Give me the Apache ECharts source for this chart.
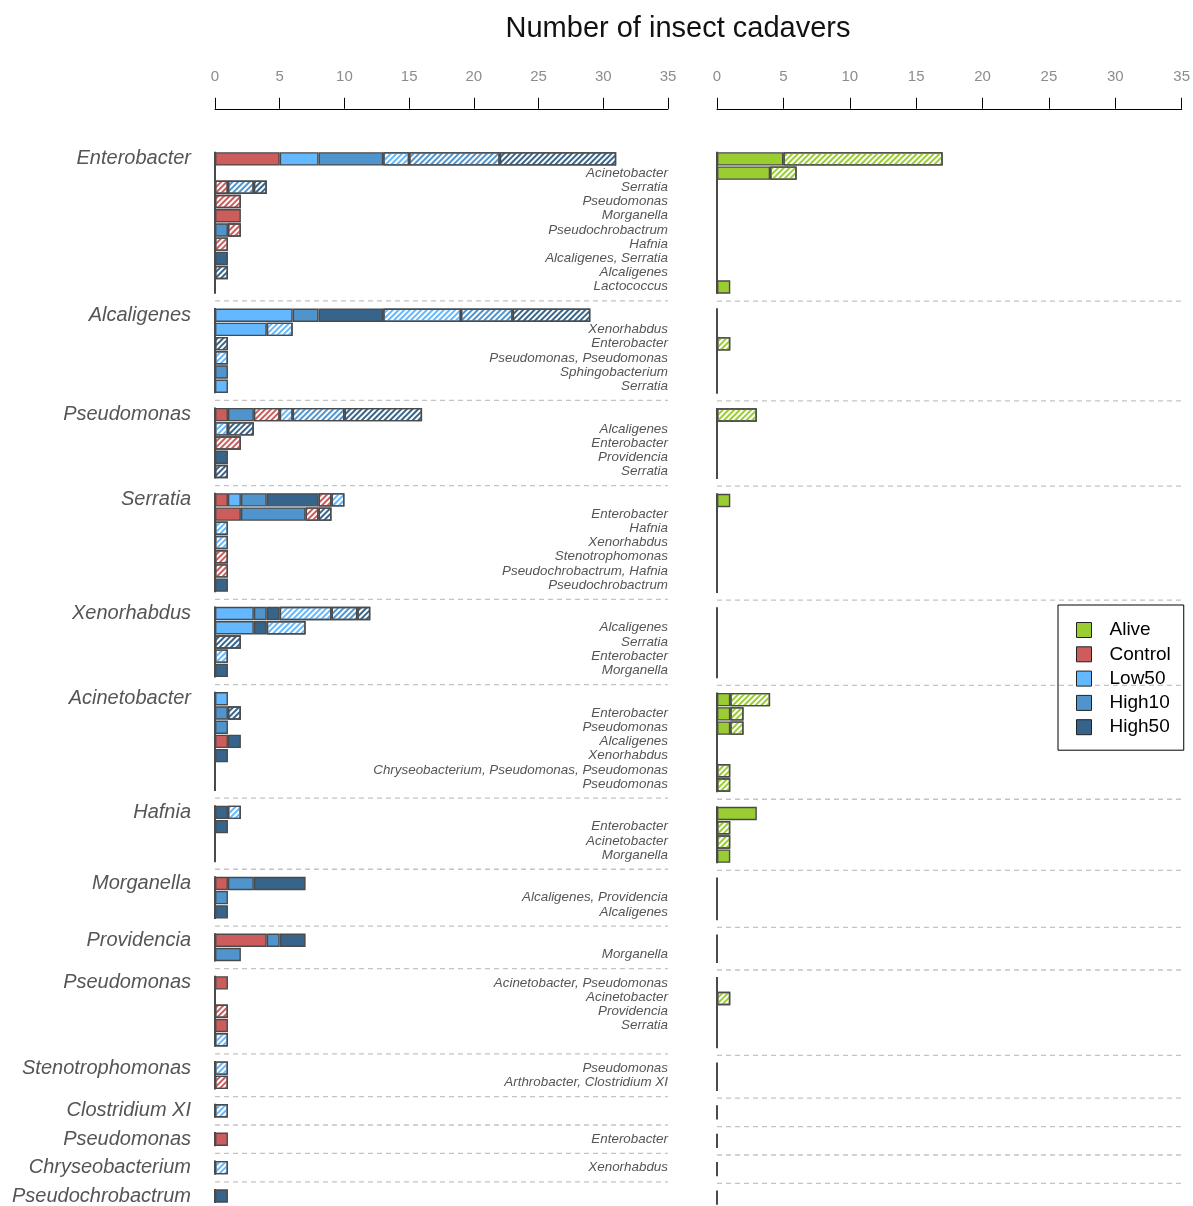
<!DOCTYPE html>
<html><head><meta charset="utf-8">
<script src="https://cdn.jsdelivr.net/npm/echarts@6/dist/echarts.min.js"></script>
<style>html,body{margin:0;padding:0;background:#fff}#c{width:1193px;height:1206px}</style>
</head><body><div id="c"></div>
<script>
// ---- data ----
const rowCount = 74; // rows incl. blank separator rows
const groupTitles = [[0,'Enterobacter'],[11,'Alcaligenes'],[18,'Pseudomonas'],[24,'Serratia'],[32,'Xenorhabdus'],
  [38,'Acinetobacter'],[46,'Hafnia'],[51,'Morganella'],[55,'Providencia'],[58,'Pseudomonas'],
  [64,'Stenotrophomonas'],[67,'Clostridium XI'],[69,'Pseudomonas'],[71,'Chryseobacterium'],[73,'Pseudochrobactrum']];
const rowLabels = [[1,'Acinetobacter'],[2,'Serratia'],[3,'Pseudomonas'],[4,'Morganella'],[5,'Pseudochrobactrum'],
  [6,'Hafnia'],[7,'Alcaligenes, Serratia'],[8,'Alcaligenes'],[9,'Lactococcus'],
  [12,'Xenorhabdus'],[13,'Enterobacter'],[14,'Pseudomonas, Pseudomonas'],[15,'Sphingobacterium'],[16,'Serratia'],
  [19,'Alcaligenes'],[20,'Enterobacter'],[21,'Providencia'],[22,'Serratia'],
  [25,'Enterobacter'],[26,'Hafnia'],[27,'Xenorhabdus'],[28,'Stenotrophomonas'],[29,'Pseudochrobactrum, Hafnia'],[30,'Pseudochrobactrum'],
  [33,'Alcaligenes'],[34,'Serratia'],[35,'Enterobacter'],[36,'Morganella'],
  [39,'Enterobacter'],[40,'Pseudomonas'],[41,'Alcaligenes'],[42,'Xenorhabdus'],[43,'Chryseobacterium, Pseudomonas, Pseudomonas'],[44,'Pseudomonas'],
  [47,'Enterobacter'],[48,'Acinetobacter'],[49,'Morganella'],
  [52,'Alcaligenes, Providencia'],[53,'Alcaligenes'],
  [56,'Morganella'],
  [58,'Acinetobacter, Pseudomonas'],[59,'Acinetobacter'],[60,'Providencia'],[61,'Serratia'],
  [64,'Pseudomonas'],[65,'Arthrobacter, Clostridium XI'],
  [69,'Enterobacter'],[71,'Xenorhabdus']];
const groupRanges = [[0,9],[11,16],[18,22],[24,30],[32,36],[38,44],[46,49],[51,53],[55,56],[58,62],[64,65],[67,67],[69,69],[71,71],[73,73]];
const separatorRows = [10,17,23,31,37,45,50,54,57,63,66,68,70,72];
const axisMin = 0, axisMax = 35, axisStep = 5;

// [row, count]
const controlSolid = [[0,5],[4,2],[18,1],[24,1],[25,2],[41,1],[51,1],[55,4],[58,1],[61,1],[69,1]];
const low50Solid   = [[0,3],[11,6],[12,4],[16,1],[24,1],[32,3],[33,3],[38,1]];
const high10Solid  = [[0,5],[5,1],[11,2],[15,1],[18,2],[24,2],[25,5],[32,1],[39,1],[40,1],[51,2],[52,1],[55,1],[56,2]];
const high50Solid  = [[7,1],[11,5],[21,1],[24,4],[30,1],[32,1],[33,1],[36,1],[41,1],[42,1],[46,1],[47,1],[51,4],[53,1],[55,2],[73,1]];
const controlHatch = [[2,1],[3,2],[5,1],[6,1],[18,2],[20,2],[24,1],[25,1],[28,1],[29,1],[60,1],[65,1]];
const low50Hatch   = [[0,2],[11,6],[12,2],[14,1],[18,1],[19,1],[24,1],[26,1],[27,1],[32,4],[33,3],[35,1],[46,1],[62,1],[64,1],[67,1],[71,1]];
const high10Hatch  = [[0,7],[2,2],[11,4],[18,4],[32,2]];
const high50Hatch  = [[0,9],[2,1],[8,1],[11,6],[13,1],[18,6],[19,2],[22,1],[25,1],[32,1],[34,2],[39,1]];
const aliveSolid   = [[0,5],[1,4],[9,1],[24,1],[38,1],[39,1],[40,1],[46,3],[49,1]];
const aliveHatch   = [[0,12],[1,2],[13,1],[18,3],[38,3],[39,1],[40,1],[43,1],[44,1],[47,1],[48,1],[59,1]];

// ---- build ----
const COL = {Alive:'#9ACD32', Control:'#CD5C5C', Low50:'#63B8FF', High10:'#4F94CD', High50:'#36648B'};
const cats = Array.from({length: rowCount}, (_, i) => 'r' + i);
const titleMap = Object.fromEntries(groupTitles);
const labelMap = Object.fromEntries(rowLabels);
function expand(pairs){ const a = new Array(rowCount).fill('-'); pairs.forEach(p => { a[p[0]] = p[1]; }); return a; }

const BORDER = '#4a4a4a';
function solid(name, pairs, stack, xi, yi){
  return {type:'bar', name, stack, xAxisIndex:xi, yAxisIndex:yi, data: expand(pairs), barWidth: 13.4,
    itemStyle:{color: COL[name], borderColor: BORDER, borderWidth: 1.4}, silent:true, z:2};
}
function hatch(name, pairs, stack, xi, yi){
  return {type:'bar', name: name + ' (h)', stack, xAxisIndex:xi, yAxisIndex:yi, data: expand(pairs), barWidth: 13.4,
    itemStyle:{color:'#ffffff', borderColor: BORDER, borderWidth: 1.4,
      decal:{symbol:'rect', symbolSize:1, color: COL[name], dashArrayX:[1,0], dashArrayY:[1.7,1.9], rotation:-Math.PI/4}},
    silent:true, z:2};
}
function segSeries(xi, yi){
  return {type:'custom', xAxisIndex:xi, yAxisIndex:yi, silent:true, z:5,
    data: groupRanges.map(g => [g[0], g[1]]),
    renderItem(params, api){
      const s = api.value(0), e = api.value(1);
      const p1 = api.coord([0, s]), p2 = api.coord([0, e]);
      const h = api.size([0, 1])[1] / 2;
      return {type:'line', shape:{x1:p1[0], y1:p1[1]-h, x2:p2[0], y2:p2[1]+h}, style:{stroke:'#4a4a4a', lineWidth:2}};
    }};
}
function sepSeries(xi, yi){
  return {type:'custom', xAxisIndex:xi, yAxisIndex:yi, silent:true, z:1,
    data: separatorRows.map(r => [0, r]),
    renderItem(params, api){
      const r = api.value(1);
      const p1 = api.coord([axisMin, r]), p2 = api.coord([axisMax, r]);
      return {type:'line', shape:{x1:p1[0], y1:p1[1], x2:p2[0], y2:p2[1]}, style:{stroke:'#c4c4c4', lineWidth:1.3, lineDash:[5,4]}};
    }};
}
function xAxisDef(gi){
  return {type:'value', gridIndex:gi, position:'top', min:axisMin, max:axisMax, interval:axisStep, offset:43,
    axisLine:{show:true, onZero:false, lineStyle:{color:'#000', width:1}},
    axisTick:{show:true, length:11, lineStyle:{color:'#000', width:1}},
    axisLabel:{color:'#8c8c8c', fontSize:15, fontFamily:'Liberation Sans', margin:24},
    splitLine:{show:false}};
}

const chart = echarts.init(document.getElementById('c'), null, {renderer:'canvas'});
chart.setOption({
  animation:false,
  backgroundColor:'#fff',
  graphic:[{type:'text', x:678, y:29, style:{text:'Number of insect cadavers', fontSize:29, fontFamily:'Liberation Sans', fill:'#111', textAlign:'center', textVerticalAlign:'middle'}}],
  grid:[{left:215, right:525, top:151.8, height:1053, containLabel:false},
        {left:717, right:10, top:151.8, height:1053, containLabel:false}],
  xAxis:[xAxisDef(0), xAxisDef(1)],
  yAxis:[
    {type:'category', gridIndex:0, data:cats, inverse:true, axisLine:{show:false}, axisTick:{show:false},
     axisLabel:{interval:0, margin:24, fontSize:20, fontStyle:'italic', fontFamily:'Liberation Sans', color:'#555',
       formatter:(v, i) => titleMap[i] || ''}},
    {type:'category', gridIndex:0, position:'right', data:cats, inverse:true, axisLine:{show:false}, axisTick:{show:false},
     axisLabel:{inside:true, interval:0, margin:0, fontSize:13.4, fontStyle:'italic', fontFamily:'Liberation Sans', color:'#555',
       formatter:(v, i) => labelMap[i] || ''}},
    {type:'category', gridIndex:1, data:cats, inverse:true, axisLine:{show:false}, axisTick:{show:false}, axisLabel:{show:false}}
  ],
  legend:{show:true, orient:'vertical', left:1058, top:605, data:['Alive','Control','Low50','High10','High50'],
    itemWidth:15, itemHeight:15, itemGap:4.3, padding:[15,13,13,18], borderColor:'#000', borderWidth:1,
    icon:'rect', itemStyle:{borderColor:'#222', borderWidth:1},
    textStyle:{fontSize:19, fontFamily:'Liberation Sans', color:'#000', lineHeight:20, padding:[0,0,0,13]}},
  series:[
    sepSeries(0,0), sepSeries(1,2),
    solid('Control', controlSolid, 'L', 0, 0),
    solid('Low50', low50Solid, 'L', 0, 0),
    solid('High10', high10Solid, 'L', 0, 0),
    solid('High50', high50Solid, 'L', 0, 0),
    hatch('Control', controlHatch, 'L', 0, 0),
    hatch('Low50', low50Hatch, 'L', 0, 0),
    hatch('High10', high10Hatch, 'L', 0, 0),
    hatch('High50', high50Hatch, 'L', 0, 0),
    solid('Alive', aliveSolid, 'R', 1, 2),
    hatch('Alive', aliveHatch, 'R', 1, 2),
    segSeries(0,0), segSeries(1,2)
  ]
});
</script></body></html>
